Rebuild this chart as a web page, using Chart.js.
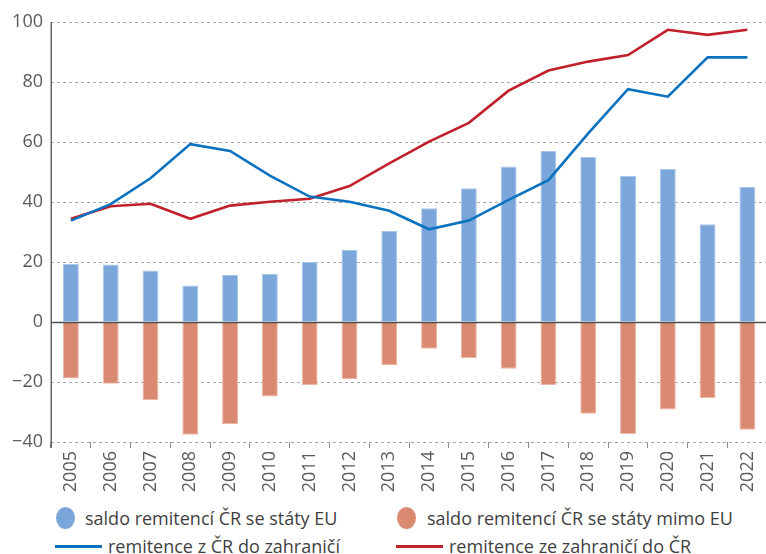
<!DOCTYPE html>
<html><head><meta charset="utf-8">
<script src="https://cdn.jsdelivr.net/npm/chart.js@4.4.0/dist/chart.umd.min.js"></script>
<style>
html,body{margin:0;padding:0;background:#fff;overflow:hidden;width:766px;height:554px;}
#wrap{position:absolute;left:0;top:0;width:772px;height:500px;}
.leg{position:absolute;font-family:"Open Sans",sans-serif;font-size:18px;color:#3f3f3f;white-space:nowrap;line-height:20px;}
.dot{position:absolute;width:19px;height:22px;border-radius:50%;}
.ln{position:absolute;height:3px;}
</style></head><body>
<div id="wrap"><canvas id="c"></canvas></div>
<div id="legend"></div>
<script>
const years = ['2005','2006','2007','2008','2009','2010','2011','2012','2013','2014','2015','2016','2017','2018','2019','2020','2021','2022'];
const euBalance    = [19.3, 19.2, 17.2, 12.2, 15.7, 16.0, 20.0, 24.0, 30.3, 37.9, 44.6, 51.8, 57.0, 55.0, 48.7, 51.0, 32.6, 45.0];
const nonEuBalance = [-18.8, -20.6, -26.0, -37.6, -34.0, -24.8, -21.0, -19.1, -14.4, -8.9, -12.0, -15.6, -21.0, -30.6, -37.3, -29.2, -25.3, -35.9];
const outflows     = [33.8, 39.3, 47.9, 59.3, 57.0, 48.8, 41.8, 40.1, 37.1, 30.9, 33.8, 40.7, 47.3, 62.9, 77.6, 75.1, 88.2, 88.2];
const inflows      = [34.4, 38.6, 39.4, 34.4, 38.8, 40.1, 41.1, 45.3, 52.9, 60.1, 66.4, 77.1, 83.8, 86.8, 89.0, 97.4, 95.7, 97.4];
const yTicks = [-40, -20, 0, 20, 40, 60, 80, 100];
const labels = ['saldo remitencí ČR se státy EU', 'saldo remitencí ČR se státy mimo EU', 'remitence z ČR do zahraničí', 'remitence ze zahraničí do ČR'];

const colEU = '#7ba6d9', colNonEU = '#db8a72', colOut = '#0b72bf', colIn = '#c1212b';
const tickFont = {family: '"Open Sans", sans-serif', size: 18};
const tickColor = '#5a5a5a';

const axisLines = {
  id: 'axisLines',
  beforeDatasetsDraw(chart) {
    const {ctx, chartArea} = chart;
    const px = Math.round(chartArea.left) + 0.25;
    ctx.save();
    ctx.strokeStyle = '#666666';
    ctx.lineWidth = 1.5;
    ctx.beginPath();
    ctx.moveTo(px, chartArea.top);
    ctx.lineTo(px, chartArea.bottom + 6);
    ctx.stroke();
    ctx.restore();
  },
  afterDatasetsDraw(chart) {
    const {ctx, chartArea, scales: {y}} = chart;
    const py = Math.round(y.getPixelForValue(0)) + 0.5;
    ctx.save();
    ctx.strokeStyle = '#4d4d4d';
    ctx.lineWidth = 1.5;
    ctx.beginPath();
    ctx.moveTo(chartArea.left, py);
    ctx.lineTo(chartArea.right, py);
    ctx.stroke();
    ctx.restore();
  }
};

new Chart(document.getElementById('c'), {
  type: 'bar',
  data: {
    labels: years,
    datasets: [
      {type: 'line', label: labels[2], data: outflows, borderColor: colOut, borderWidth: 2.6, pointRadius: 0, tension: 0, order: 0, fill: false},
      {type: 'line', label: labels[3], data: inflows, borderColor: colIn, borderWidth: 2.6, pointRadius: 0, tension: 0, order: 0, fill: false},
      {label: labels[0], data: euBalance, backgroundColor: colEU, borderColor: '#a9c6ea', borderWidth: 1, barPercentage: 0.4, categoryPercentage: 1, grouped: false, order: 2},
      {label: labels[1], data: nonEuBalance, backgroundColor: colNonEU, borderColor: '#ecb6a6', borderWidth: 1, barPercentage: 0.4, categoryPercentage: 1, grouped: false, order: 2}
    ]
  },
  options: {
    responsive: true, maintainAspectRatio: false, animation: false,
    layout: {padding: {top: 22, left: 0, right: 0, bottom: 0}},
    plugins: {legend: {display: false}, tooltip: {enabled: false}},
    scales: {
      x: {
        grid: {offset: true, drawOnChartArea: false, drawTicks: true, tickLength: 6, color: '#8c8c8c', lineWidth: 1},
        border: {display: false},
        ticks: {minRotation: 90, maxRotation: 90, autoSkip: false, padding: 3, color: tickColor, font: tickFont},
        afterFit(s) { s.height = 58; }
      },
      y: {
        min: yTicks[0], max: yTicks[yTicks.length - 1],
        afterBuildTicks(s) { s.ticks = yTicks.map(v => ({value: v})); },
        ticks: {padding: 8, color: tickColor, font: tickFont, callback: v => v < 0 ? '\u2212' + Math.abs(v) : String(v)},
        grid: {drawTicks: false, color: c => (c.tick && c.tick.value === 0) ? 'rgba(0,0,0,0)' : '#a8a8a8', lineWidth: 1},
        border: {display: false, dash: [3, 3]},
        afterFit(s) { s.width = 51; }
      }
    }
  },
  plugins: [axisLines]
});

// HTML legend (two columns)
const leg = document.getElementById('legend');
const items = [
  {kind: 'dot', color: colEU, text: labels[0], mx: 56, tx: 85, row: 0},
  {kind: 'dot', color: colNonEU, text: labels[1], mx: 397, tx: 427, row: 0},
  {kind: 'ln', color: colOut, text: labels[2], mx: 55, tx: 108, row: 1},
  {kind: 'ln', color: colIn, text: labels[3], mx: 396, tx: 449, row: 1}
];
const rowCenter = [518, 546];
items.forEach(it => {
  const m = document.createElement('div');
  m.className = it.kind;
  m.style.background = it.color;
  m.style.left = it.mx + 'px';
  if (it.kind === 'dot') { m.style.top = (rowCenter[it.row] - 11) + 'px'; }
  else { m.style.width = '47px'; m.style.top = (rowCenter[it.row] - 1.5) + 'px'; }
  leg.appendChild(m);
  const t = document.createElement('div');
  t.className = 'leg';
  t.textContent = it.text;
  t.style.left = it.tx + 'px';
  t.style.top = (rowCenter[it.row] - 10) + 'px';
  leg.appendChild(t);
});
</script>
</body></html>
